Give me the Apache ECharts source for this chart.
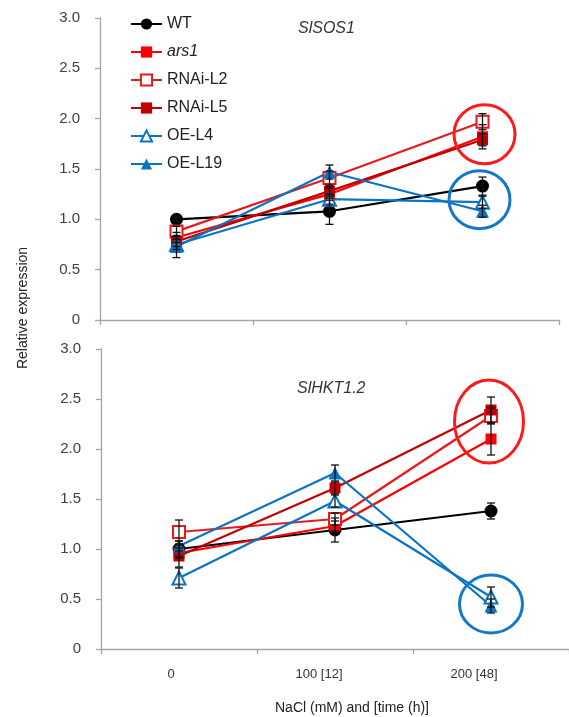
<!DOCTYPE html>
<html>
<head>
<meta charset="utf-8">
<script src="https://cdn.jsdelivr.net/npm/echarts@6/dist/echarts.min.js"></script>
<style>
html,body{margin:0;padding:0;background:#fff;}
#chart{width:569px;height:717px;}
</style>
</head>
<body>
<div id="chart"></div>
<script>
// ---- data ----
const categories = ['0', '100 [12]', '200 [48]'];
const yTicks = ['0', '0.5', '1.0', '1.5', '2.0', '2.5', '3.0'];
const seriesNames = ['WT', 'ars1', 'RNAi-L2', 'RNAi-L5', 'OE-L4', 'OE-L19'];

// SlSOS1 (top panel)
const sos1_WT     = [1.00, 1.08, 1.33];
const sos1_ars1   = [0.82, 1.25, 1.82];
const sos1_RNAiL2 = [0.88, 1.41, 1.97];
const sos1_RNAiL5 = [0.78, 1.28, 1.79];
const sos1_OEL4   = [0.75, 1.20, 1.17];
const sos1_OEL19  = [0.73, 1.47, 1.08];
const sos1_err_WT     = [0.02, 0.13, 0.09];
const sos1_err_ars1   = [0.05, 0.06, 0.12];
const sos1_err_RNAiL2 = [0.05, 0.07, 0.08];
const sos1_err_RNAiL5 = [0.05, 0.05, 0.06];
const sos1_err_OEL4   = [0.05, 0.05, 0.06];
const sos1_err_OEL19  = [0.11, 0.07, 0.06];

// SlHKT1.2 (bottom panel)
const hkt_WT     = [1.00, 1.19, 1.38];
const hkt_ars1   = [0.96, 1.23, 2.10];
const hkt_RNAiL2 = [1.17, 1.30, 2.33];
const hkt_RNAiL5 = [0.93, 1.61, 2.39];
const hkt_OEL4   = [0.71, 1.48, 0.52];
const hkt_OEL19  = [1.03, 1.76, 0.43];
const hkt_err_WT     = [0.08, 0.12, 0.08];
const hkt_err_ars1   = [0.05, 0.05, 0.16];
const hkt_err_RNAiL2 = [0.12, 0.06, 0.08];
const hkt_err_RNAiL5 = [0.11, 0.06, 0.13];
const hkt_err_OEL4   = [0.10, 0.06, 0.10];
const hkt_err_OEL19  = [0.05, 0.08, 0.07];

// highlight rings: [category index, value centre]
const ringsTop = [[2, 1.845, 'red'], [2, 1.195, 'blue']];
const ringsBottom = [[2, 2.275, 'red'], [2, 0.45, 'blue']];

// ---- styles ----
const RED = '#ff0000', MRED = '#e41a1c', DRED = '#c00000', BLUE = '#0a74c4';
const styles = {
  'WT':      {line: '#000000', fill: '#000000', border: '#000000', symbol: 'circle', size: 13},
  'ars1':    {line: RED, fill: RED, border: RED, symbol: 'rect', size: 11},
  'RNAi-L2': {line: MRED, fill: '#ffffff', border: MRED, symbol: 'rect', size: 12},
  'RNAi-L5': {line: DRED, fill: DRED, border: DRED, symbol: 'rect', size: 11},
  'OE-L4':   {line: BLUE, fill: '#ffffff', border: BLUE, symbol: 'triangle', size: 13},
  'OE-L19':  {line: BLUE, fill: BLUE, border: BLUE, symbol: 'triangle', size: 13}
};

const topData = [sos1_WT, sos1_ars1, sos1_RNAiL2, sos1_RNAiL5, sos1_OEL4, sos1_OEL19];
const topErr  = [sos1_err_WT, sos1_err_ars1, sos1_err_RNAiL2, sos1_err_RNAiL5, sos1_err_OEL4, sos1_err_OEL19];
const botData = [hkt_WT, hkt_ars1, hkt_RNAiL2, hkt_RNAiL5, hkt_OEL4, hkt_OEL19];
const botErr  = [hkt_err_WT, hkt_err_ars1, hkt_err_RNAiL2, hkt_err_RNAiL5, hkt_err_OEL4, hkt_err_OEL19];

const FONT = 'Liberation Sans, Arial, sans-serif';
const AXIS_COLOR = '#a6a6a6';

function makeLine(name, data, gi) {
  const s = styles[name];
  return {
    name: name, type: 'line', xAxisIndex: gi, yAxisIndex: gi,
    data: data, symbol: s.symbol, symbolSize: s.size, showAllSymbol: true,
    lineStyle: {color: s.line, width: 2.2},
    itemStyle: {color: s.fill, borderColor: s.border, borderWidth: (s.fill === '#ffffff') ? 2 : 0},
    emphasis: {disabled: true}, animation: false, z: 3
  };
}
function makeErr(values, errs, gi) {
  const d = [];
  values.forEach((arr, si) => arr.forEach((v, ci) => d.push([ci, v, errs[si][ci]])));
  return {
    type: 'custom', xAxisIndex: gi, yAxisIndex: gi, data: d, z: 5, silent: true, animation: false,
    renderItem: function (params, api) {
      const ci = api.value(0), v = api.value(1), e = api.value(2);
      const hi = api.coord([ci, v + e]);
      const lo = api.coord([ci, v - e]);
      const w = 4;
      return {type: 'group', children: [
        {type: 'line', shape: {x1: hi[0], y1: hi[1], x2: lo[0], y2: lo[1]}, style: {stroke: '#111', lineWidth: 1.3}},
        {type: 'line', shape: {x1: hi[0]-w, y1: hi[1], x2: hi[0]+w, y2: hi[1]}, style: {stroke: '#111', lineWidth: 1.3}},
        {type: 'line', shape: {x1: lo[0]-w, y1: lo[1], x2: lo[0]+w, y2: lo[1]}, style: {stroke: '#111', lineWidth: 1.3}}
      ]};
    }
  };
}

const labelShift = [16, 32, 34];

function xAxis(gi, showLabels) {
  return {
    type: 'category', gridIndex: gi, data: categories, boundaryGap: true,
    axisLine: {lineStyle: {color: AXIS_COLOR, width: 1.3}},
    axisTick: {show: true, length: 5, lineStyle: {color: AXIS_COLOR, width: 1.3}},
    axisLabel: {
      show: showLabels, margin: 19, fontFamily: FONT, fontSize: 13, color: '#333',
      formatter: function (v) { return '{a' + categories.indexOf(v) + '|' + v + '}'; },
      rich: {
        a0: {padding: [0, labelShift[0], 0, 0], fontFamily: FONT, fontSize: 13, color: '#333'},
        a1: {padding: [0, labelShift[1], 0, 0], fontFamily: FONT, fontSize: 13, color: '#333'},
        a2: {padding: [0, labelShift[2], 0, 0], fontFamily: FONT, fontSize: 13, color: '#333'}
      }
    },
    splitLine: {show: false}
  };
}
function yAxis(gi) {
  return {
    type: 'value', gridIndex: gi, min: 0, max: 3, interval: 0.5,
    axisLine: {show: true, lineStyle: {color: AXIS_COLOR, width: 1.3}},
    axisTick: {show: true, length: 5, lineStyle: {color: AXIS_COLOR, width: 1.3}},
    axisLabel: {margin: 20, fontFamily: FONT, fontSize: 15, color: '#404040',
      formatter: function (v) { return yTicks[Math.round(v * 2)]; }},
    splitLine: {show: false}
  };
}

const series = [];
seriesNames.forEach((n, i) => series.push(makeLine(n, topData[i], 0)));
seriesNames.forEach((n, i) => series.push(makeLine(n, botData[i], 1)));
series.push(makeErr(topData, topErr, 0));
series.push(makeErr(botData, botErr, 1));

const chart = echarts.init(document.getElementById('chart'), null, {renderer: 'canvas'});
const option = {
  animation: false,
  backgroundColor: '#ffffff',
  grid: [
    {left: 100, top: 18, width: 459, height: 302},
    {left: 101, top: 349, width: 475, height: 300}
  ],
  xAxis: [xAxis(0, false), xAxis(1, true)],
  yAxis: [yAxis(0), yAxis(1)],
  legend: {
    orient: 'vertical', left: 125, top: 11, itemWidth: 31, itemHeight: 14, itemGap: 12,
    data: seriesNames, selectedMode: false,
    textStyle: {fontFamily: FONT, fontSize: 16, color: '#222',
      rich: {i: {fontFamily: FONT, fontSize: 16, fontStyle: 'italic', color: '#222'}}},
    formatter: function (n) { return n === 'ars1' ? '{i|ars1}' : n; }
  },
  series: series,
  graphic: [
    {type: 'text', left: 298, top: 21, style: {text: 'SlSOS1', fontFamily: FONT, fontSize: 16, fontStyle: 'italic', fill: '#333'}},
    {type: 'text', left: 297, top: 381, style: {text: 'SlHKT1.2', fontFamily: FONT, fontSize: 16, fontStyle: 'italic', fill: '#333'}},
    {type: 'text', x: 23, y: 308, rotation: Math.PI / 2,
      style: {text: 'Relative expression', fontFamily: FONT, fontSize: 14, fill: '#222', align: 'center', verticalAlign: 'middle'}},
    {type: 'text', x: 352, y: 708,
      style: {text: 'NaCl (mM) and [time (h)]', fontFamily: FONT, fontSize: 14, fill: '#222', align: 'center', verticalAlign: 'middle'}}
  ]
};
chart.setOption(option);

// highlight rings positioned through the axes
function ring(gi, r, dx, rx, ry) {
  const p = chart.convertToPixel({gridIndex: gi}, [r[0], r[1]]);
  return {type: 'ellipse', shape: {cx: p[0] + dx, cy: p[1], rx: rx, ry: ry},
    style: {fill: 'none', stroke: r[2] === 'red' ? '#ff1a1a' : '#1478c8', lineWidth: 3}, z: 10, silent: true};
}
const rings = [
  ring(0, ringsTop[0], 2, 30.5, 29.5),
  ring(0, ringsTop[1], -3, 30.5, 29),
  ring(1, ringsBottom[0], -2, 34.5, 41.5),
  ring(1, ringsBottom[1], 0, 31.5, 29)
];
chart.setOption({graphic: option.graphic.concat(rings)});
</script>
</body>
</html>
